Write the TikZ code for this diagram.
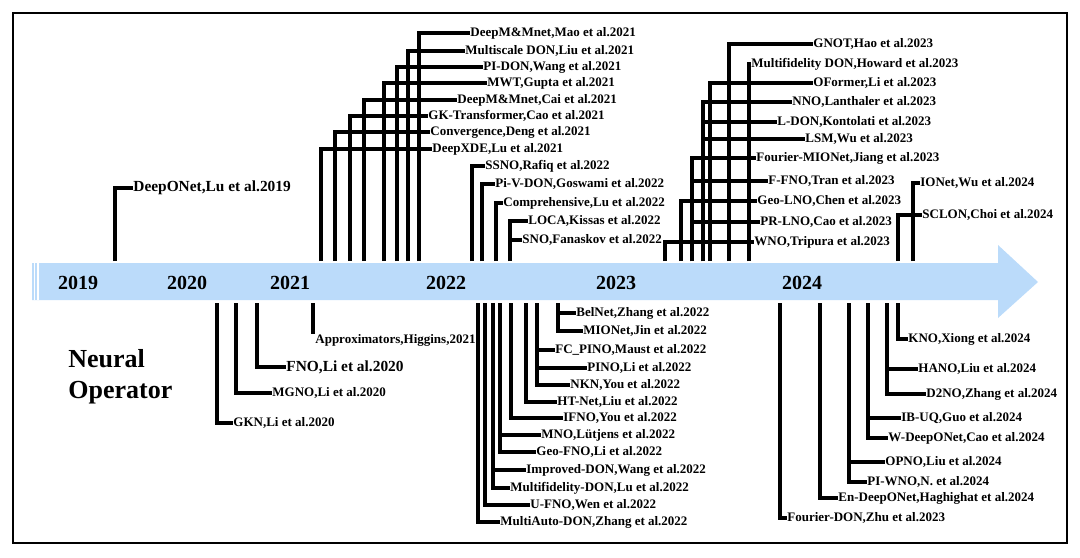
\documentclass[tikz,border=0pt]{standalone}
\usepackage{fontspec}
\setmainfont{Liberation Serif}
\definecolor{bandblue}{RGB}{187,219,250}
\tikzset{
  lab/.style={anchor=west, inner sep=0pt, font=\bfseries\fontsize{6.5}{7}\selectfont},
  biglab/.style={lab, font=\bfseries\fontsize{7.7}{9}\selectfont},
  yr/.style={inner sep=0pt, font=\bfseries\fontsize{10}{12}\selectfont},
  conn/.style={line width=1.75pt},
}
\begin{document}
\begin{tikzpicture}[x=0.5pt, y=-0.5pt]
      \useasboundingbox (0,0) rectangle (1080,557);
      \draw[line width=1.1pt] (13,13) rectangle (1067,543);
      % time arrow
      \fill[bandblue] (32,263) -- (998,263) -- (998,245) -- (1038,282)
        -- (998,318) -- (998,300) -- (32,300) -- cycle;
      \draw[white, line width=0.6pt] (34.5,263) -- (34.5,300);
      \draw[white, line width=0.6pt] (38,263) -- (38,300);
      \draw
        (78,283) node[yr] (y19){2019}
        (187,283) node[yr] (y20){2020}
        (290,283) node[yr] (y21){2021}
        (446,283) node[yr] (y22){2022}
        (616,283) node[yr] (y23){2023}
        (802,283) node[yr] (y24){2024}
        (68,377) node[anchor=west, inner sep=0pt, align=left,
          font=\bfseries\fontsize{13}{15.5}\selectfont] (title){Neural\\Operator};
      % labels above the arrow
      \draw
        (133,188) node[biglab] (deeponet){DeepONet,Lu et al.2019}
        (432,149) node[lab] (deepxde){DeepXDE,Lu et al.2021}
        (430,132) node[lab] (conv){Convergence,Deng et al.2021}
        (428,116) node[lab] (gktrans){GK-Transformer,Cao et al.2021}
        (457,100) node[lab] (mmcai){DeepM\&Mnet,Cai et al.2021}
        (487,83) node[lab] (mwt){MWT,Gupta et al.2021}
        (483,67) node[lab] (pidon){PI-DON,Wang et al.2021}
        (465,51) node[lab] (msdon){Multiscale DON,Liu et al.2021}
        (470,33) node[lab] (mmmao){DeepM\&Mnet,Mao et al.2021}
        (485,166) node[lab] (ssno){SSNO,Rafiq et al.2022}
        (495,184) node[lab] (pivdon){Pi-V-DON,Goswami et al.2022}
        (503,203) node[lab] (compr){Comprehensive,Lu et al.2022}
        (528,221) node[lab] (loca){LOCA,Kissas et al.2022}
        (522,240) node[lab] (sno){SNO,Fanaskov et al.2022}
        (754,242) node[lab] (wno){WNO,Tripura et al.2023}
        (760,222) node[lab] (prlno){PR-LNO,Cao et al.2023}
        (757,201) node[lab] (geolno){Geo-LNO,Chen et al.2023}
        (768,181) node[lab] (ffno){F-FNO,Tran et al.2023}
        (756,158) node[lab] (fmionet){Fourier-MIONet,Jiang et al.2023}
        (805,139) node[lab] (lsm){LSM,Wu et al.2023}
        (777,122) node[lab] (ldon){L-DON,Kontolati et al.2023}
        (792,102) node[lab] (nno){NNO,Lanthaler et al.2023}
        (813,83) node[lab] (oformer){OFormer,Li et al.2023}
        (751,64) node[lab] (mfdon){Multifidelity DON,Howard et al.2023}
        (813,44) node[lab] (gnot){GNOT,Hao et al.2023}
        (920,183) node[lab] (ionet){IONet,Wu et al.2024}
        (922,215) node[lab] (sclon){SCLON,Choi et al.2024};
      % labels below the arrow
      \draw
        (233,423) node[lab] (gkn){GKN,Li et al.2020}
        (272,393) node[lab] (mgno){MGNO,Li et al.2020}
        (286,367) node[biglab] (fno){FNO,Li et al.2020}
        (315,334) node[lab, anchor=north west] (approx){Approximators,Higgins,2021}
        (500,522) node[lab] (madon){MultiAuto-DON,Zhang et al.2022}
        (530,505) node[lab] (ufno){U-FNO,Wen et al.2022}
        (510,488) node[lab] (mfdon2){Multifidelity-DON,Lu et al.2022}
        (526,470) node[lab] (impdon){Improved-DON,Wang et al.2022}
        (536,452) node[lab] (geofno){Geo-FNO,Li et al.2022}
        (541,435) node[lab] (mno){MNO,Lütjens et al.2022}
        (563,418) node[lab] (ifno){IFNO,You et al.2022}
        (557,402) node[lab] (htnet){HT-Net,Liu et al.2022}
        (570,385) node[lab] (nkn){NKN,You et al.2022}
        (587,368) node[lab] (pino){PINO,Li et al.2022}
        (555,350) node[lab] (fcpino){FC\_PINO,Maust et al.2022}
        (583,331) node[lab] (mionet){MIONet,Jin et al.2022}
        (576,313) node[lab] (belnet){BelNet,Zhang et al.2022}
        (787,518) node[lab] (fdon){Fourier-DON,Zhu et al.2023}
        (838,498) node[lab] (endon){En-DeepONet,Haghighat et al.2024}
        (867,482) node[lab] (piwno){PI-WNO,N. et al.2024}
        (885,462) node[lab] (opno){OPNO,Liu et al.2024}
        (888,438) node[lab] (wdon){W-DeepONet,Cao et al.2024}
        (901,418) node[lab] (ibuq){IB-UQ,Guo et al.2024}
        (926,394) node[lab] (d2no){D2NO,Zhang et al.2024}
        (918,369) node[lab] (hano){HANO,Liu et al.2024}
        (908,339) node[lab] (kno){KNO,Xiong et al.2024};
      % feet of the connectors on the arrow
      \coordinate (t1) at (115,261);
      \coordinate (t2) at (321,261);
      \coordinate (t3) at (335,261);
      \coordinate (t4) at (350,261);
      \coordinate (t5) at (364,261);
      \coordinate (t6) at (384,261);
      \coordinate (t7) at (397,261);
      \coordinate (t8) at (408,261);
      \coordinate (t9) at (419,261);
      \coordinate (t10) at (472,261);
      \coordinate (t11) at (482,261);
      \coordinate (t12) at (496,261);
      \coordinate (t13) at (510,261);
      \coordinate (t14) at (665,261);
      \coordinate (t15) at (681,261);
      \coordinate (t16) at (692,261);
      \coordinate (t17) at (703,261);
      \coordinate (t18) at (710,261);
      \coordinate (t19) at (729,261);
      \coordinate (t20) at (749,261);
      \coordinate (t21) at (898,261);
      \coordinate (t22) at (913,261);
      \coordinate (b1) at (217,303);
      \coordinate (b2) at (236,303);
      \coordinate (b3) at (257,303);
      \coordinate (b4) at (313,303);
      \coordinate (b5) at (478,303);
      \coordinate (b6) at (485,303);
      \coordinate (b7) at (493,303);
      \coordinate (b8) at (500,303);
      \coordinate (b9) at (511,303);
      \coordinate (b10) at (526,303);
      \coordinate (b11) at (537,303);
      \coordinate (b12) at (558,303);
      \coordinate (b13) at (780,303);
      \coordinate (b14) at (820,303);
      \coordinate (b15) at (849,303);
      \coordinate (b16) at (868,303);
      \coordinate (b17) at (887,303);
      \coordinate (b18) at (898,303);
      \begin{scope}[conn]
        \draw (t1) |- (deeponet);
        \draw (t2) |- (deepxde);
        \draw (t3) |- (conv);
        \draw (t4) |- (gktrans);
        \draw (t5) |- (mmcai);
        \draw (t6) |- (mwt);
        \draw (t7) |- (pidon);
        \draw (t8) |- (msdon);
        \draw (t9) |- (mmmao);
        \draw (t10) |- (ssno);
        \draw (t11) |- (pivdon);
        \draw (t12) |- (compr);
        \draw (t13) |- (loca);
        \draw (t13) |- (sno);
        \draw (t14) |- (wno);
        \draw (t15) |- (geolno);
        \draw (t16) |- (fmionet);
        \draw (t16) |- (ffno);
        \draw (t16) |- (prlno);
        \draw (t17) |- (nno);
        \draw (t17) |- (ldon);
        \draw (t17) |- (lsm);
        \draw (t18) |- (oformer);
        \draw (t19) |- (gnot);
        \draw (t20) |- (mfdon);
        \draw (t21) |- (sclon);
        \draw (t22) |- (ionet);
        \draw (b1) |- (gkn);
        \draw (b2) |- (mgno);
        \draw (b3) |- (fno);
        \draw (b4) -- (b4 |- approx.north);
        \draw (b5) |- (madon);
        \draw (b6) |- (ufno);
        \draw (b7) |- (mfdon2);
        \draw (b7) |- (impdon);
        \draw (b8) |- (geofno);
        \draw (b8) |- (mno);
        \draw (b9) |- (ifno);
        \draw (b10) |- (htnet);
        \draw (b11) |- (nkn);
        \draw (b11) |- (pino);
        \draw (b11) |- (fcpino);
        \draw (b12) |- (mionet);
        \draw (b12) |- (belnet);
        \draw (b13) |- (fdon);
        \draw (b14) |- (endon);
        \draw (b15) |- (piwno);
        \draw (b15) |- (opno);
        \draw (b16) |- (wdon);
        \draw (b16) |- (ibuq);
        \draw (b17) |- (d2no);
        \draw (b17) |- (hano);
        \draw (b18) |- (kno);
      \end{scope}
    \end{tikzpicture}
\end{document}
